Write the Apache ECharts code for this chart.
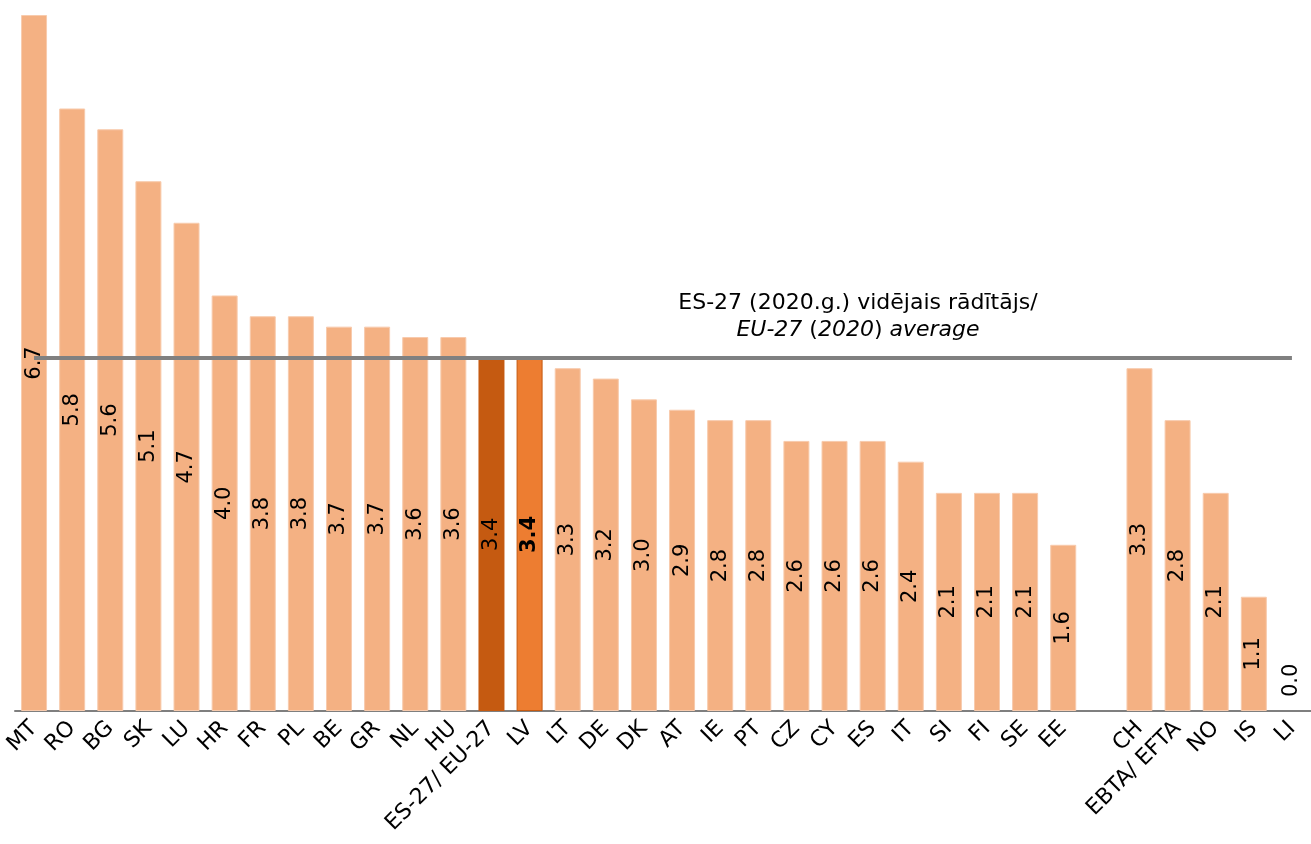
<!DOCTYPE html>
<html>
<head>
    <meta charset="utf-8">
    <title>ES-27 vidējais rādītājs</title>
    <style>
        body { margin: 0; background: #fff; }
        #main { width: 1311px; height: 844px; }
    </style>
</head>
<body>
    <div id="main"></div>
    <script src="https://cdn.jsdelivr.net/npm/echarts@6/dist/echarts.min.js"></script>
    <script>
        // dati
        var categories = ['MT', 'RO', 'BG', 'SK', 'LU', 'HR', 'FR', 'PL', 'BE', 'GR', 'NL', 'HU',
            'ES-27/ EU-27', 'LV', 'LT', 'DE', 'DK', 'AT', 'IE', 'PT', 'CZ', 'CY', 'ES', 'IT',
            'SI', 'FI', 'SE', 'EE', '', 'CH', 'EBTA/ EFTA', 'NO', 'IS', 'LI'];
        var values = [6.7, 5.8, 5.6, 5.1, 4.7, 4.0, 3.8, 3.8, 3.7, 3.7, 3.6, 3.6,
            3.4, 3.4, 3.3, 3.2, 3.0, 2.9, 2.8, 2.8, 2.6, 2.6, 2.6, 2.4,
            2.1, 2.1, 2.1, 1.6, null, 3.3, 2.8, 2.1, 1.1, 0.0];
        var euAverage = 3.4;

        var font = 'DejaVu Sans, Verdana, sans-serif';

        var barData = values.map(function (v, i) {
            var item = { value: v };
            if (categories[i] === 'ES-27/ EU-27') {
                item.itemStyle = { color: '#C55A11', borderWidth: 0 };
            } else if (categories[i] === 'LV') {
                item.itemStyle = { color: '#ED7D31', borderColor: '#C55A11', borderWidth: 1 };
                item.label = { fontWeight: 'bold' };
            } else if (v === 0) {
                // nulles vērtība - uzraksts virs ass
                item.itemStyle = { borderWidth: 0 };
                item.label = { position: 'top', distance: 14, align: 'left', verticalAlign: 'middle' };
            }
            return item;
        });

        var chart = echarts.init(document.getElementById('main'));
        var option = {
            animation: false,
            grid: { left: 15, right: -6, top: 15, bottom: 133, containLabel: false },
            xAxis: {
                type: 'category',
                data: categories,
                axisLine: { lineStyle: { color: '#7f7f7f', width: 2 } },
                axisTick: { show: false },
                axisLabel: {
                    rotate: 45,
                    interval: 0,
                    margin: 14,
                    color: '#000',
                    fontFamily: font,
                    fontSize: 22
                }
            },
            yAxis: {
                type: 'value',
                min: 0,
                max: 6.7,
                show: false,
                splitLine: { show: false }
            },
            series: [{
                type: 'bar',
                data: barData,
                barWidth: 26,
                itemStyle: { color: '#F4B183', borderColor: '#F8CBAD', borderWidth: 1 },
                label: {
                    show: true,
                    position: 'inside',
                    rotate: 90,
                    color: '#000',
                    fontFamily: font,
                    fontSize: 21,
                    formatter: function (p) { return p.value == null ? '' : p.value.toFixed(1); }
                },
                markLine: {
                    symbol: 'none',
                    silent: true,
                    z: 10,
                    label: { show: false },
                    lineStyle: { color: '#808080', width: 4, type: 'solid', opacity: 1 },
                    data: [[
                        { xAxis: 'MT', yAxis: euAverage },
                        { xAxis: 'LI', yAxis: euAverage }
                    ]]
                }
            }],
            graphic: [{
                type: 'text',
                x: 858,
                y: 290,
                style: {
                    text: 'ES-27 (2020.g.) vidējais rādītājs/\n{i|EU-27} ({i|2020}) {i|average}',
                    font: '22px ' + font,
                    fill: '#000',
                    align: 'center',
                    verticalAlign: 'top',
                    lineHeight: 27,
                    rich: {
                        i: { fontStyle: 'italic', fontFamily: font, fontSize: 22, lineHeight: 27 }
                    }
                }
            }]
        };
        chart.setOption(option);
    </script>
</body>
</html>
